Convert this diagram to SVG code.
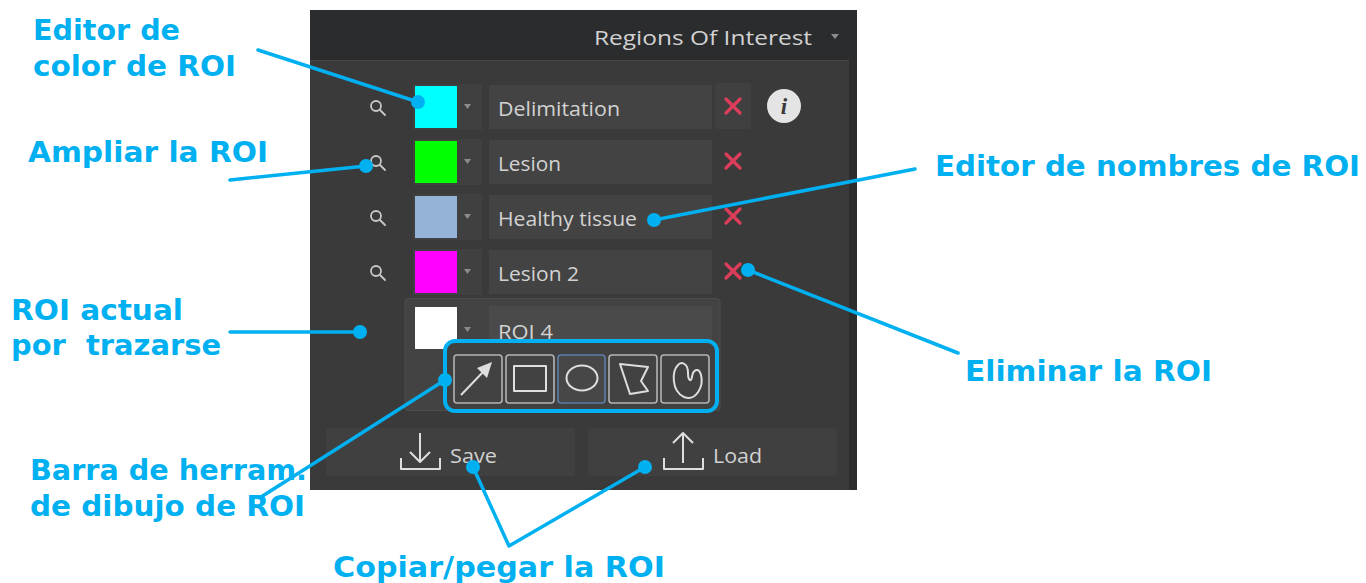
<svg xmlns="http://www.w3.org/2000/svg" width="1366" height="583" viewBox="0 0 1366 583">
<defs>
<style>
.lbl{font-family:"DejaVu Sans",Verdana,sans-serif;font-weight:bold;font-size:28px;fill:#00b0f0}
.ui{font-family:"Open Sans","Noto Sans",sans-serif;font-size:20.5px;fill:#d2d2d2}
.con{stroke:#00b0f0;stroke-width:3.5;fill:none;stroke-linecap:round;stroke-linejoin:round}
.dot{fill:#00b0f0}
.sw{fill:#404040}
.fld{fill:#434343}
.tri{fill:#8c8c8c}
.mag{stroke:#c8c8c8;stroke-width:1.8;fill:none;stroke-linecap:round}
.x{stroke:#dc3d5a;stroke-width:3.2;stroke-linecap:round}
.btn{fill:#424242;stroke:#b4b4b4;stroke-width:1.6}
.ico{stroke:#dedede;stroke-width:2;fill:none;stroke-linejoin:round}
.bb{fill:#404040}
</style>
</defs>
<rect width="1366" height="583" fill="#ffffff"/>
<g id="panel">
<rect x="310" y="10" width="547" height="480" fill="#3a3a3a"/>
<rect x="310" y="10" width="547" height="50" fill="#2b2c2e"/>
<rect x="849" y="60" width="8" height="430" fill="#2c2c2c"/>
<line x1="310" y1="60.5" x2="849" y2="60.5" stroke="#454545" stroke-width="1"/>
<text x="812" y="45" class="ui" font-size="21" text-anchor="end" textLength="218" lengthAdjust="spacingAndGlyphs" fill="#d6d6d6">Regions Of Interest</text>
<path d="M831 34 L839 34 L835 39 Z" class="tri"/>
</g>
<g id="row1">
<circle cx="376" cy="106" r="5" class="mag"/><line x1="380" y1="110" x2="385" y2="115" class="mag"/>
<rect x="413" y="84" width="69" height="46" class="sw"/>
<rect x="415" y="86" width="42" height="42" fill="#00ffff"/>
<path d="M464 104 L471 104 L467.5 109 Z" class="tri"/>
<rect x="489" y="85" width="223" height="44" class="fld"/>
<text x="498" y="116" class="ui" fill="#a8a8a8" textLength="122" lengthAdjust="spacingAndGlyphs">Delimitation</text>
<rect x="715" y="83" width="36" height="46" rx="3" fill="#404040"/>
<line x1="726" y1="99" x2="740" y2="113" class="x"/><line x1="740" y1="99" x2="726" y2="113" class="x"/>
<circle cx="784" cy="106" r="17" fill="#e4e4e4"/>
<text x="784" y="114" font-family="'Liberation Serif',serif" font-weight="bold" font-style="italic" font-size="23" fill="#3a3a3a" text-anchor="middle">i</text>
</g>
<g id="row2">
<circle cx="376" cy="161" r="5" class="mag"/><line x1="380" y1="165" x2="385" y2="170" class="mag"/>
<rect x="413" y="139" width="69" height="46" class="sw"/>
<rect x="415" y="141" width="42" height="42" fill="#00ff00"/>
<path d="M464 159 L471 159 L467.5 164 Z" class="tri"/>
<rect x="489" y="140" width="223" height="44" class="fld"/>
<text x="498" y="171" class="ui" textLength="63" lengthAdjust="spacingAndGlyphs">Lesion</text>
<line x1="726" y1="154" x2="740" y2="168" class="x"/><line x1="740" y1="154" x2="726" y2="168" class="x"/>
</g>
<g id="row3">
<circle cx="376" cy="216" r="5" class="mag"/><line x1="380" y1="220" x2="385" y2="225" class="mag"/>
<rect x="413" y="194" width="69" height="46" class="sw"/>
<rect x="415" y="196" width="42" height="42" fill="#95b3d7"/>
<path d="M464 214 L471 214 L467.5 219 Z" class="tri"/>
<rect x="489" y="195" width="223" height="44" class="fld"/>
<text x="498" y="226" class="ui" textLength="139" lengthAdjust="spacingAndGlyphs">Healthy tissue</text>
<line x1="726" y1="209" x2="740" y2="223" class="x"/><line x1="740" y1="209" x2="726" y2="223" class="x"/>
</g>
<g id="row4">
<circle cx="376" cy="271" r="5" class="mag"/><line x1="380" y1="275" x2="385" y2="280" class="mag"/>
<rect x="413" y="249" width="69" height="46" class="sw"/>
<rect x="415" y="251" width="42" height="42" fill="#ff00ff"/>
<path d="M464 269 L471 269 L467.5 274 Z" class="tri"/>
<rect x="489" y="250" width="223" height="44" class="fld"/>
<text x="498" y="281" class="ui" textLength="81" lengthAdjust="spacingAndGlyphs">Lesion 2</text>
<line x1="726" y1="264" x2="740" y2="278" class="x"/><line x1="740" y1="264" x2="726" y2="278" class="x"/>
</g>
<g id="row5">
<rect x="405" y="298.5" width="315" height="112" rx="3" fill="#434343" stroke="#4d4d4d" stroke-width="1"/>
<rect x="415" y="307" width="42" height="42" fill="#ffffff"/>
<path d="M464 327 L471 327 L467.5 332 Z" class="tri"/>
<rect x="489" y="306" width="223" height="44" fill="#4a4a4a"/>
<text x="498" y="339" class="ui" textLength="55" lengthAdjust="spacingAndGlyphs">ROI 4</text>
</g>
<g id="toolbar">
<rect x="445" y="341" width="272" height="70" rx="10" fill="#404040" stroke="#00b0f0" stroke-width="4"/>
<rect x="454" y="355" width="48" height="48" rx="3" class="btn"/>
<rect x="506" y="355" width="48" height="48" rx="3" class="btn"/>
<rect x="558" y="355" width="47" height="48" rx="3" fill="#474747" stroke="#5a7ea6" stroke-width="1.6"/>
<rect x="609" y="355" width="48" height="48" rx="3" class="btn"/>
<rect x="661" y="355" width="48" height="48" rx="3" class="btn"/>
<line x1="461" y1="395" x2="484" y2="371" class="ico"/>
<path d="M492 362 L477 368 L487 378 Z" fill="#dedede"/>
<rect x="514" y="366" width="32" height="25" class="ico"/>
<ellipse cx="582" cy="378" rx="15.5" ry="12.5" class="ico"/>
<path d="M620 364 L648 367 L641 381 L648 391 L630 394 Z" class="ico"/>
<path d="M678 365 C672 371,671 391,684 397 C696 402,704 386,701 375 C699 367,693 369,692 377 C691 383,688 380,688 373 C688 363,681 361,678 365 Z" class="ico"/>
</g>
<g id="save">
<rect x="326" y="428" width="249" height="48" rx="3" class="bb"/>
<path d="M401 458 V469 H440 V458" class="ico" stroke-width="1.8"/>
<path d="M420 433 V462 M410 452 L420 462 L430 452" class="ico" stroke-width="1.8"/>
<text x="450" y="463" class="ui" textLength="47" lengthAdjust="spacingAndGlyphs">Save</text>
</g>
<g id="load">
<rect x="588" y="428" width="249" height="48" rx="3" class="bb"/>
<path d="M664 458 V469 H703 V458" class="ico" stroke-width="1.8"/>
<path d="M683 463 V433 M673 443 L683 433 L693 443" class="ico" stroke-width="1.8"/>
<text x="713" y="463" class="ui" textLength="49" lengthAdjust="spacingAndGlyphs">Load</text>
</g>
<g id="connectors">
<line x1="258" y1="50" x2="418" y2="102" class="con"/><circle cx="418" cy="102" r="7" class="dot"/>
<line x1="230" y1="180" x2="366" y2="166" class="con"/><circle cx="366" cy="166" r="7" class="dot"/>
<line x1="915" y1="169" x2="654" y2="220" class="con"/><circle cx="654" cy="220" r="7" class="dot"/>
<line x1="958" y1="353" x2="748" y2="270" class="con"/><circle cx="748" cy="270" r="7" class="dot"/>
<line x1="230" y1="332" x2="360" y2="332" class="con"/><circle cx="360" cy="332" r="7" class="dot"/>
<line x1="261" y1="497" x2="445" y2="380" class="con"/><circle cx="445" cy="380" r="7" class="dot"/>
<polyline points="473,467 509,546 645,467" class="con"/><circle cx="473" cy="467" r="7" class="dot"/><circle cx="645" cy="467" r="7" class="dot"/>
</g>
<g id="labels">
<text x="33" y="40" class="lbl" textLength="147" lengthAdjust="spacingAndGlyphs">Editor de</text>
<text x="33" y="76" class="lbl" textLength="203" lengthAdjust="spacingAndGlyphs">color de ROI</text>
<text x="28" y="162" class="lbl" textLength="240" lengthAdjust="spacingAndGlyphs">Ampliar la ROI</text>
<text x="935" y="176" class="lbl" textLength="425" lengthAdjust="spacingAndGlyphs">Editor de nombres de ROI</text>
<text x="11" y="320" class="lbl" textLength="172" lengthAdjust="spacingAndGlyphs">ROI actual</text>
<text x="11" y="355" class="lbl" textLength="210" lengthAdjust="spacingAndGlyphs" xml:space="preserve">por  trazarse</text>
<text x="965" y="381" class="lbl" textLength="247" lengthAdjust="spacingAndGlyphs">Eliminar la ROI</text>
<text x="30" y="480" class="lbl" textLength="277" lengthAdjust="spacingAndGlyphs">Barra de herram.</text>
<text x="30" y="516" class="lbl" textLength="275" lengthAdjust="spacingAndGlyphs">de dibujo de ROI</text>
<text x="333" y="577" class="lbl" textLength="332" lengthAdjust="spacingAndGlyphs">Copiar/pegar la ROI</text>
</g>
</svg>
